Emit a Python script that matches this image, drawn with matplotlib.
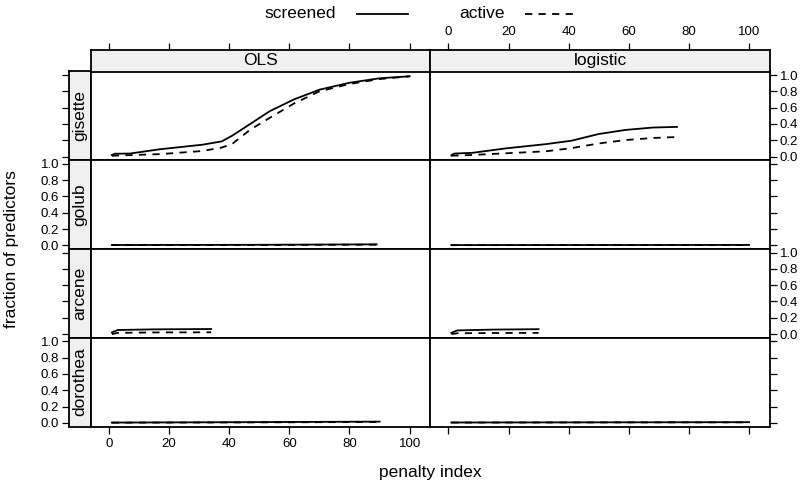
import matplotlib
matplotlib.use("Agg")
import matplotlib.pyplot as plt
from matplotlib.lines import Line2D

plt.rcParams['font.family'] = ['Liberation Sans', 'DejaVu Sans']

# ---------------- data ----------------
datasets = ["gisette", "golub", "arcene", "dorothea"]
models = ["OLS", "logistic"]
x_ticks = [0, 20, 40, 60, 80, 100]
y_ticks = [0.0, 0.2, 0.4, 0.6, 0.8, 1.0]
y_tick_labels = ["0.0", "0.2", "0.4", "0.6", "0.8", "1.0"]

penalty_gisette_ols = [1, 2, 7, 17, 31, 37.5, 41, 47, 53.5, 61.5, 70, 80, 90, 100]
screened_gisette_ols = [0.02, 0.035, 0.037, 0.09, 0.145, 0.186, 0.256, 0.40, 0.557, 0.70, 0.82, 0.905, 0.96, 0.984]
active_gisette_ols = [0.01, 0.012, 0.018, 0.03, 0.068, 0.11, 0.155, 0.33, 0.475, 0.65, 0.80, 0.89, 0.95, 0.984]

penalty_gisette_log = [1, 2, 8, 19, 32.5, 41, 50, 59, 68, 76]
screened_gisette_log = [0.017, 0.037, 0.046, 0.10, 0.153, 0.195, 0.277, 0.327, 0.356, 0.364]
active_gisette_log = [0.01, 0.012, 0.02, 0.04, 0.065, 0.104, 0.161, 0.203, 0.228, 0.24]

penalty_golub_ols = [1, 45, 89]
screened_golub_ols = [0.004, 0.006, 0.012]
active_golub_ols = [0.003, 0.004, 0.008]

penalty_golub_log = [1, 50, 100]
screened_golub_log = [0.003, 0.004, 0.005]
active_golub_log = [0.002, 0.003, 0.004]

penalty_arcene_ols = [1, 3, 15, 34]
screened_arcene_ols = [0.02, 0.05, 0.058, 0.062]
active_arcene_ols = [0.0, 0.015, 0.02, 0.022]

penalty_arcene_log = [1, 3, 15, 30]
screened_arcene_log = [0.015, 0.045, 0.055, 0.06]
active_arcene_log = [0.0, 0.01, 0.013, 0.015]

penalty_dorothea_ols = [1, 45, 90]
screened_dorothea_ols = [0.003, 0.008, 0.015]
active_dorothea_ols = [0.002, 0.005, 0.01]

penalty_dorothea_log = [1, 50, 100]
screened_dorothea_log = [0.004, 0.006, 0.008]
active_dorothea_log = [0.003, 0.005, 0.006]

series = {
    ("gisette", "OLS"): (penalty_gisette_ols, screened_gisette_ols, active_gisette_ols),
    ("gisette", "logistic"): (penalty_gisette_log, screened_gisette_log, active_gisette_log),
    ("golub", "OLS"): (penalty_golub_ols, screened_golub_ols, active_golub_ols),
    ("golub", "logistic"): (penalty_golub_log, screened_golub_log, active_golub_log),
    ("arcene", "OLS"): (penalty_arcene_ols, screened_arcene_ols, active_arcene_ols),
    ("arcene", "logistic"): (penalty_arcene_log, screened_arcene_log, active_arcene_log),
    ("dorothea", "OLS"): (penalty_dorothea_ols, screened_dorothea_ols, active_dorothea_ols),
    ("dorothea", "logistic"): (penalty_dorothea_log, screened_dorothea_log, active_dorothea_log),
}

# ---------------- layout ----------------
W, H = 804, 482
fig = plt.figure(figsize=(W / 100, H / 100), dpi=100)


def box(x0, y0, x1, y1):
    return [x0 / W, 1 - y1 / H, (x1 - x0) / W, (y1 - y0) / H]


XLIM = (-5.93, 106.93)
YLIM = (-0.045, 1.043)
col_edges = [(91, 430.5), (430.5, 770)]
row_h = 88.75
row_tops = [71.5 + i * row_h for i in range(4)]
strip_top = 49.5
strip_left = 69.5
STRIP_BG = "#f0f0f0"
SPINE_LW = 1.3
TICK_FS = 9.5
LAB_FS = 12.5
TICK_LEN = 5
LINE_LW = 1.3
DASH = (4.0, 3.5)

for r, ds in enumerate(datasets):
    top = row_tops[r]
    bot = top + row_h
    # left strip with left ticks
    sax = fig.add_axes(box(strip_left, top, col_edges[0][0], bot))
    sax.set_facecolor(STRIP_BG)
    sax.set_xlim(0, 1)
    sax.set_ylim(*YLIM)
    sax.set_xticks([])
    sax.set_yticks(y_ticks)
    if r % 2 == 1:
        sax.set_yticklabels(y_tick_labels)
    else:
        sax.set_yticklabels([])
    sax.tick_params(axis="y", direction="out", length=TICK_LEN, width=0.9,
                    labelsize=TICK_FS, pad=2.5)
    for sp in sax.spines.values():
        sp.set_linewidth(SPINE_LW)
    sax.text(0.5, 0.5, ds, rotation=90, ha="center", va="center",
             fontsize=LAB_FS, transform=sax.transAxes)

    for c, mdl in enumerate(models):
        x0, x1 = col_edges[c]
        ax = fig.add_axes(box(x0, top, x1, bot))
        ax.set_xlim(*XLIM)
        ax.set_ylim(*YLIM)
        for sp in ax.spines.values():
            sp.set_linewidth(SPINE_LW)
        xs, scr, act = series[(ds, mdl)]
        ax.plot(xs, scr, color="black", lw=LINE_LW)
        ax.plot(xs, act, color="black", lw=LINE_LW, dashes=DASH)
        # x ticks on bottom row only
        if r == len(datasets) - 1:
            ax.set_xticks(x_ticks)
            if c == 0:
                ax.set_xticklabels([str(v) for v in x_ticks])
            else:
                ax.set_xticklabels([])
            ax.tick_params(axis="x", direction="out", length=TICK_LEN, width=0.9,
                           labelsize=TICK_FS, pad=3)
        else:
            ax.set_xticks([])
        # y ticks on right column
        if c == 1:
            ax.yaxis.tick_right()
            ax.set_yticks(y_ticks)
            if r % 2 == 0:
                ax.set_yticklabels(y_tick_labels)
            else:
                ax.set_yticklabels([])
            ax.tick_params(axis="y", direction="out", length=TICK_LEN, width=0.9,
                           labelsize=TICK_FS, pad=2.0)
        else:
            ax.set_yticks([])

# top strips
for c, mdl in enumerate(models):
    x0, x1 = col_edges[c]
    tax = fig.add_axes(box(x0, strip_top, x1, row_tops[0]))
    tax.set_facecolor(STRIP_BG)
    tax.set_xlim(*XLIM)
    tax.set_ylim(0, 1)
    tax.set_yticks([])
    tax.xaxis.tick_top()
    tax.set_xticks(x_ticks)
    if c == 1:
        tax.set_xticklabels([str(v) for v in x_ticks])
    else:
        tax.set_xticklabels([])
    tax.tick_params(axis="x", direction="out", length=TICK_LEN, width=0.9,
                    labelsize=TICK_FS, pad=3)
    for sp in tax.spines.values():
        sp.set_linewidth(SPINE_LW)
    tax.text(0.5, 0.5, mdl, ha="center", va="center", fontsize=LAB_FS,
             transform=tax.transAxes)

# axis labels
fig.text(430 / W, 1 - 473 / H, "penalty index", ha="center", va="center", fontsize=LAB_FS)
fig.text(12 / W, 1 - 249 / H, "fraction of predictors", ha="center", va="center",
         rotation=90, fontsize=LAB_FS)

# legend
ly = 1 - 14 / H
fig.text(300 / W, ly, "screened", ha="center", va="center", fontsize=LAB_FS)
fig.add_artist(Line2D([357 / W, 408 / W], [ly, ly], transform=fig.transFigure,
                      color="black", lw=LINE_LW))
fig.text(482 / W, ly, "active", ha="center", va="center", fontsize=LAB_FS)
fig.add_artist(Line2D([525 / W, 573 / W], [ly, ly], transform=fig.transFigure,
                      color="black", lw=LINE_LW, dashes=DASH))

fig.savefig("out.png", dpi=100)
